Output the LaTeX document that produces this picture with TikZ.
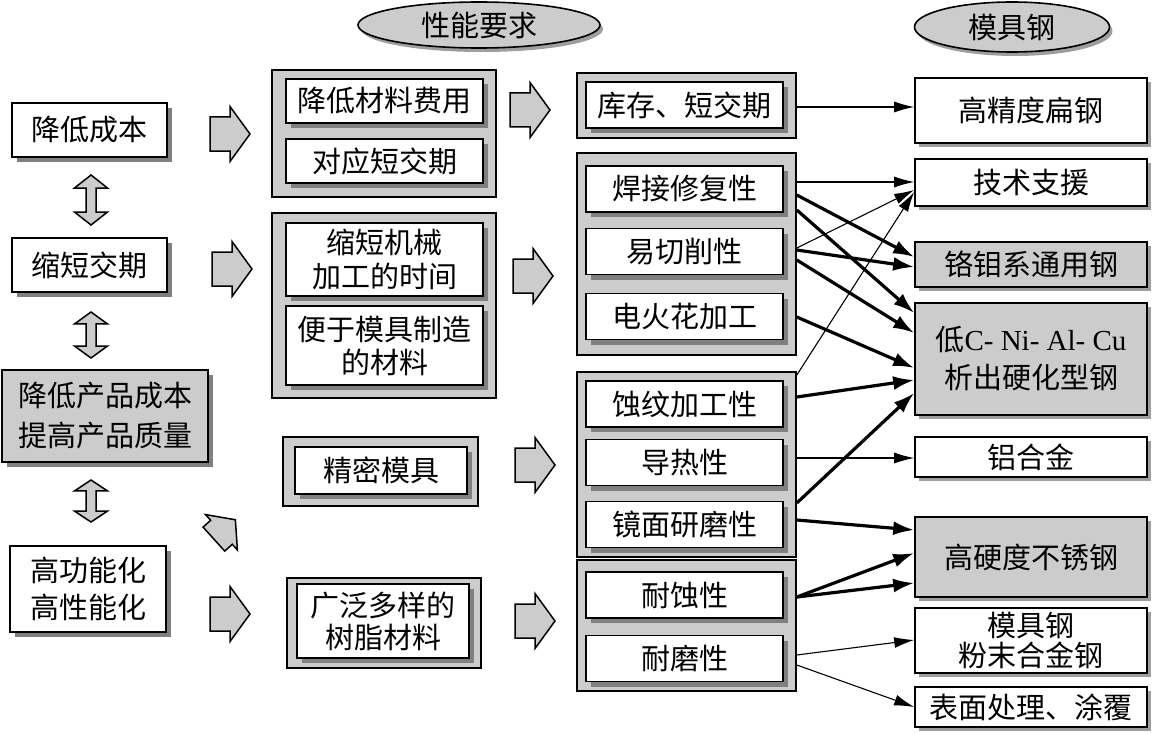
\documentclass[tikz,border=0pt]{standalone}
\usepackage{fontspec}
\setmainfont{Noto Sans CJK SC}
\newfontfamily\lserif{Liberation Serif}
\usetikzlibrary{shadows,arrows.meta,calc,shapes.geometric}
\definecolor{boxgray}{gray}{0.8}
\definecolor{shd}{gray}{0.5}
\definecolor{shdlight}{gray}{0.62}
\begin{document}
\begin{tikzpicture}[x=1pt,y=-1pt,line join=miter,
  base/.style={draw=black, line width=1.6pt, inner sep=0pt, align=center, font=\fontsize{29}{35}\selectfont},
  wbox/.style={base, fill=white, drop shadow={shadow xshift=5pt,shadow yshift=-5pt,fill=shd,opacity=1}},
  gbox/.style={base, fill=boxgray, drop shadow={shadow xshift=5pt,shadow yshift=-5pt,fill=shd,opacity=1}},
  rbox/.style={base, fill=white, drop shadow={shadow xshift=4pt,shadow yshift=-4pt,fill=shdlight,opacity=1}},
  rgbox/.style={base, fill=boxgray, drop shadow={shadow xshift=4pt,shadow yshift=-4pt,fill=shdlight,opacity=1}},
  grp/.style={draw=black, line width=1.6pt, fill=boxgray, inner sep=0pt},
  hdr/.style={ellipse, base, fill=boxgray, drop shadow={shadow xshift=3pt,shadow yshift=-4pt,fill=shdlight,opacity=1}},
  blk/.style={draw=black, line width=1.5pt, fill=boxgray, line join=miter},
  tline/.style={line width=1.1pt, -{Latex[length=20pt,width=11pt]}},
  bline/.style={line width=3.2pt, -{Latex[length=21pt,width=14pt]}},
  rarr/.pic={\draw[blk] (0,-17) -- (20,-17) -- (20,-27.5) -- (40,0) -- (20,27.5) -- (20,17) -- (0,17) -- cycle;},
  sarr/.pic={\draw[blk] (0,-19) -- (12,-19) -- (12,-28) -- (34,0) -- (12,28) -- (12,19) -- (0,19) -- cycle;},
  darr/.pic={\draw[blk] (0,-25) -- (16.5,-12) -- (5,-12) -- (5,12) -- (16.5,12) -- (0,25) -- (-16.5,12) -- (-5,12) -- (-5,-12) -- (-16.5,-12) -- cycle;}
]
\useasboundingbox (0,0) rectangle (1153,733);

% headers
\node[hdr, minimum width=242pt, minimum height=46pt] (e1) at (479,25) {性能要求};
\node[hdr, minimum width=195pt, minimum height=50pt] (e2) at (1012,27) {模具钢};

% left column
\node[wbox, minimum width=155pt, minimum height=54pt] (lc1) at (89.5,130) {降低成本};
\node[wbox, minimum width=155pt, minimum height=54pt] (lc2) at (89.5,265) {缩短交期};
\node[gbox, minimum width=206pt, minimum height=92pt, font=\fontsize{29}{40}\selectfont] (lc3) at (105,416) {降低产品成本\\提高产品质量};
\node[wbox, minimum width=156pt, minimum height=86pt, font=\fontsize{29}{37}\selectfont] (lc4) at (88,589) {高功能化\\高性能化};

\pic at (91,200) {darr};
\pic[yscale=0.92] at (91,335) {darr};
\pic[yscale=0.84] at (91,501) {darr};

\pic at (210,134) {rarr};
\pic at (212,269) {rarr};
\pic at (210,614) {rarr};
\pic[rotate=42, scale=0.85] at (213.9,539.1) {sarr};

% middle column
\node[grp, minimum width=224pt, minimum height=127pt] (g1) at (384,133.5) {};
\node[wbox, minimum width=197pt, minimum height=44pt] (m1) at (384.5,101) {降低材料费用};
\node[wbox, minimum width=197pt, minimum height=44pt] (m2) at (384.5,161) {对应短交期};
\node[grp, minimum width=224pt, minimum height=185pt] (g2) at (384,305.5) {};
\node[wbox, minimum width=197pt, minimum height=73pt, font=\fontsize{29}{34}\selectfont] (m3) at (384.5,259.5) {缩短机械\\加工的时间};
\node[wbox, minimum width=197pt, minimum height=79pt, font=\fontsize{29}{33}\selectfont] (m4) at (384.5,345.5) {便于模具制造\\的材料};
\node[grp, minimum width=195pt, minimum height=69pt] (g3) at (380.5,471.5) {};
\node[wbox, minimum width=172pt, minimum height=47pt] (m5) at (381,470.5) {精密模具};
\node[grp, minimum width=194pt, minimum height=90pt] (g4) at (384,623) {};
\node[wbox, minimum width=172pt, minimum height=74pt, font=\fontsize{29}{32}\selectfont] (m6) at (383,621) {广泛多样的\\树脂材料};

\pic at (510,110) {rarr};
\pic at (513,276) {rarr};
\pic at (515,465) {rarr};
\pic at (515,621) {rarr};

% third column
\node[grp, minimum width=219pt, minimum height=65pt] (h0) at (686.5,105.5) {};
\node[wbox, minimum width=197pt, minimum height=46pt] (p0) at (684.5,105) {库存、短交期};
\node[grp, minimum width=219pt, minimum height=202pt] (h1) at (686.5,254) {};
\node[wbox, minimum width=197pt, minimum height=46pt] (p1) at (684.5,189) {焊接修复性};
\node[wbox, minimum width=197pt, minimum height=46pt] (p2) at (684.5,251.5) {易切削性};
\node[wbox, minimum width=197pt, minimum height=46pt] (p3) at (684.5,316.5) {电火花加工};
\node[grp, minimum width=219pt, minimum height=185pt] (h2) at (686.5,464.5) {};
\node[wbox, minimum width=197pt, minimum height=46pt] (p4) at (684.5,404) {蚀纹加工性};
\node[wbox, minimum width=197pt, minimum height=46pt] (p5) at (684.5,462.5) {导热性};
\node[wbox, minimum width=197pt, minimum height=46pt] (p6) at (684.5,524.5) {镜面研磨性};
\node[grp, minimum width=219pt, minimum height=131pt] (h3) at (686.5,625.5) {};
\node[wbox, minimum width=197pt, minimum height=46pt] (p7) at (684.5,595) {耐蚀性};
\node[wbox, minimum width=197pt, minimum height=46pt] (p8) at (684.5,658.5) {耐磨性};

% right column
\node[rbox, minimum width=232pt, minimum height=65pt] (r1) at (1031,110.5) {高精度扁钢};
\node[rbox, minimum width=232pt, minimum height=47pt] (r2) at (1031,182.5) {技术支援};
\node[rgbox, minimum width=232pt, minimum height=45pt] (r3) at (1031,264.5) {铬钼系通用钢};
\node[rgbox, minimum width=232pt, minimum height=112pt, font=\fontsize{29}{38}\selectfont] (r4) at (1031,359) {低{\lserif C- Ni- Al- Cu}\\析出硬化型钢};
\node[rbox, minimum width=232pt, minimum height=40pt] (r5) at (1031,457) {铝合金};
\node[rgbox, minimum width=232pt, minimum height=80pt] (r6) at (1031,557) {高硬度不锈钢};
\node[rbox, minimum width=232pt, minimum height=65pt, font=\fontsize{29}{30}\selectfont] (r7) at (1031,640.5) {模具钢\\粉末合金钢};
\node[rbox, minimum width=232pt, minimum height=40pt] (r8) at (1031,707) {表面处理、涂覆};

% connectors
\draw[tline] ($(p0.east -| h0.east)+(0,2)$) -- ($(r1.west)+(0,-3.5)$);
\draw[tline] ($(p1.east -| h1.east)+(0,-7)$) -- ($(r2.west)+(0,-0.5)$);
\draw[bline] ($(p1.east -| h1.east)+(0,6)$) -- ($(r3.west)+(0,-7.5)$);
\draw[bline] ($(p1.east -| h1.east)+(0,21)$) -- ($(r4.west)+(0,-46)$);
\draw[tline] ($(p2.east -| h1.east)+(0,-3.5)$) -- ($(r2.west)+(0,7.5)$);
\draw[bline] ($(p2.east -| h1.east)+(0,-1.5)$) -- ($(r3.west)+(0,2.5)$);
\draw[bline] ($(p2.east -| h1.east)+(0,8.5)$) -- ($(r4.west)+(0,-26)$);
\draw[bline] ($(p3.east -| h1.east)+(0,0.5)$) -- ($(r4.west)+(0,9)$);
\draw[tline] ($(p4.east -| h2.east)+(0,-29)$) -- ($(r2.west)+(0,9.5)$);
\draw[bline] ($(p4.east -| h2.east)+(0,-7)$) -- ($(r4.west)+(0,21)$);
\draw[tline] ($(p5.east -| h2.east)+(0,-4.5)$) -- ($(r5.west)+(0,1)$);
\draw[bline] ($(p6.east -| h2.east)+(0,-21.5)$) -- ($(r4.west)+(0,34)$);
\draw[bline] ($(p6.east -| h2.east)+(0,-4.5)$) -- ($(r6.west)+(0,-27)$);
\draw[bline] ($(p7.east -| h3.east)+(0,2)$) -- ($(r6.west)+(0,-4)$);
\draw[bline] ($(p7.east -| h3.east)+(0,2)$) -- ($(r6.west)+(0,26)$);
\draw[tline] ($(p8.east -| h3.east)+(0,-3.5)$) -- ($(r7.west)+(0,-0.5)$);
\draw[tline] ($(p8.east -| h3.east)+(0,6.5)$) -- ($(r8.west)+(0,0)$);
\end{tikzpicture}
\end{document}
